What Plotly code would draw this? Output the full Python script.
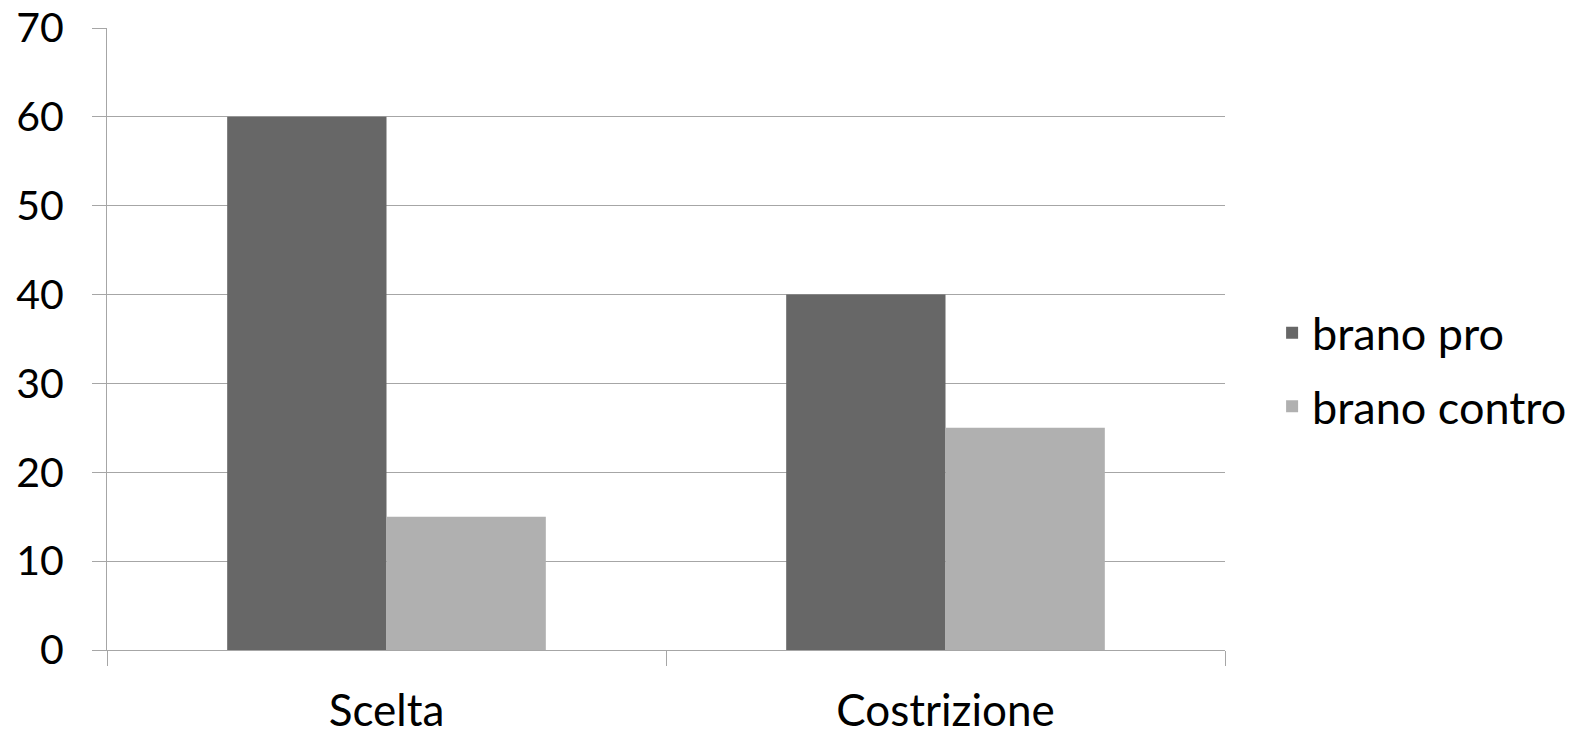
import plotly.graph_objects as go

categories = ["Scelta", "Costrizione"]
series_names = ["brano pro", "brano contro"]
brano_pro = [60, 40]
brano_contro = [15, 25]
y_ticks = [0, 10, 20, 30, 40, 50, 60, 70]

FONT = "Lato, 'Liberation Sans', sans-serif"
GRID = "#a6a6a6"

fig = go.Figure()
fig.add_trace(go.Bar(name=series_names[0], x=categories, y=brano_pro,
                     legendgroup="g1",
                     marker=dict(color="#676767", line=dict(width=0))))
fig.add_trace(go.Bar(name=series_names[1], x=categories, y=brano_contro,
                     legendgroup="g2",
                     marker=dict(color="#b0b0b0", line=dict(width=0))))

fig.update_layout(
    width=1567, height=723,
    margin=dict(l=99, r=350, t=20, b=81, pad=0),
    paper_bgcolor="white", plot_bgcolor="white",
    barmode="group", bargap=0.43, bargroupgap=0,
    font=dict(family=FONT, size=40, color="black"),
    legend=dict(xref="container", yref="container",
                x=0.8067, xanchor="left", y=0.50, yanchor="middle",
                font=dict(size=45), itemsizing="constant",
                tracegroupgap=12, bgcolor="rgba(0,0,0,0)"),
    xaxis=dict(showgrid=False, showline=True, linecolor=GRID, linewidth=1,
               ticks="outside", tickson="boundaries", ticklen=15,
               tickcolor=GRID, tickfont=dict(size=44), zeroline=False,
               automargin=False, ticklabelstandoff=22,
               ticklabeloverflow="allow"),
    yaxis=dict(range=[0, 70], tickvals=y_ticks, showgrid=True, gridcolor=GRID,
               gridwidth=1, showline=True, linecolor=GRID, linewidth=1,
               ticks="outside", ticklen=14, tickcolor=GRID,
               tickfont=dict(size=41), zeroline=False,
               automargin=False, ticklabelstandoff=20,
               ticklabeloverflow="allow"),
)

fig.write_html("out.html")
